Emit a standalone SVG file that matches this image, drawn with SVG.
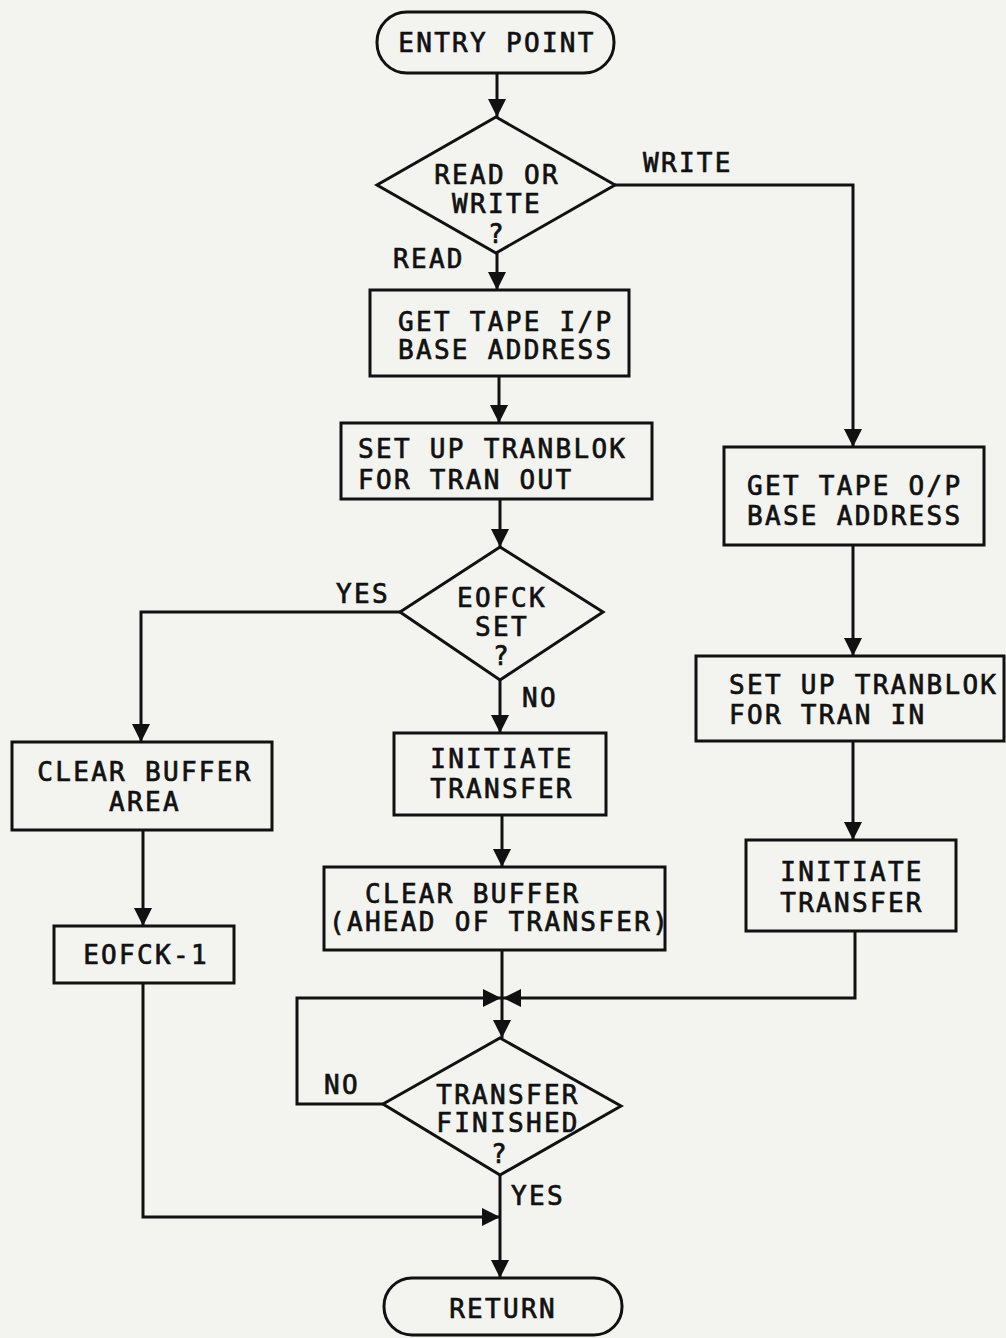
<svg xmlns="http://www.w3.org/2000/svg" width="1006" height="1338" viewBox="0 0 1006 1338">
<style>
.s{fill:none;stroke:#111;stroke-width:3;stroke-linejoin:miter}
.t{font-family:"DejaVu Sans Mono","Liberation Mono",monospace;font-size:26px;letter-spacing:2.3px;fill:#111;stroke:#111;stroke-width:0.7px}
.m{text-anchor:middle}
.c{fill:none;stroke:#111;stroke-width:3}
</style>
<defs>
<marker id="ah" markerUnits="userSpaceOnUse" markerWidth="18" markerHeight="18" refX="18" refY="9" orient="auto">
<path d="M0,0 L18,9 L0,18 z" fill="#111"/>
</marker>
</defs>
<rect width="1006" height="1338" fill="#f3f3f0"/>
<g id="connectors">
<path class="c" d="M497,73 V117" marker-end="url(#ah)"/>
<path class="c" d="M497,253 V290" marker-end="url(#ah)"/>
<path class="c" d="M615,185 H853 V447" marker-end="url(#ah)"/>
<path class="c" d="M499,376 V423" marker-end="url(#ah)"/>
<path class="c" d="M500,499 V547" marker-end="url(#ah)"/>
<path class="c" d="M400,612 H141 V742" marker-end="url(#ah)"/>
<path class="c" d="M500,680 V733" marker-end="url(#ah)"/>
<path class="c" d="M502,815 V867" marker-end="url(#ah)"/>
<path class="c" d="M143,830 V926" marker-end="url(#ah)"/>
<path class="c" d="M143,983 V1217 H500" marker-end="url(#ah)"/>
<path class="c" d="M853,545 V656" marker-end="url(#ah)"/>
<path class="c" d="M853,741 V840" marker-end="url(#ah)"/>
<path class="c" d="M855,931 V998 H503" marker-end="url(#ah)"/>
<path class="c" d="M383,1104 H297 V998 H501" marker-end="url(#ah)"/>
<path class="c" d="M502,950 V1038" marker-end="url(#ah)"/>
<path class="c" d="M500,1175 V1278" marker-end="url(#ah)"/>
<text class="t" x="643" y="172">WRITE</text>
<text class="t" x="393" y="268">READ</text>
<text class="t" x="336" y="603">YES</text>
<text class="t" x="522" y="707">NO</text>
<text class="t" x="324" y="1094">NO</text>
<text class="t" x="511" y="1205">YES</text>
</g>
<g id="entry">
<rect class="s" x="377" y="12" width="237" height="61" rx="30"/>
<text class="t m" x="497" y="52">ENTRY POINT</text>
</g>
<g id="readwrite">
<path class="s" d="M496,117 L615,185 L496,253 L377,185 Z"/>
<text class="t m" x="497" y="184">READ OR</text>
<text class="t m" x="497" y="213">WRITE</text>
<text class="t m" x="497" y="243">?</text>
</g>
<g id="getip">
<rect class="s" x="370" y="290" width="259" height="86"/>
<text class="t" x="398" y="331">GET TAPE I/P</text>
<text class="t" x="398" y="359">BASE ADDRESS</text>
</g>
<g id="tranout">
<rect class="s" x="341" y="423" width="311" height="76"/>
<text class="t" x="358" y="458">SET UP TRANBLOK</text>
<text class="t" x="358" y="489">FOR TRAN OUT</text>
</g>
<g id="eofck">
<path class="s" d="M500,547 L603,612 L500,680 L400,612 Z"/>
<text class="t m" x="502" y="607">EOFCK</text>
<text class="t m" x="502" y="636">SET</text>
<text class="t m" x="502" y="665">?</text>
</g>
<g id="clearbufarea">
<rect class="s" x="12" y="742" width="260" height="88"/>
<text class="t m" x="145" y="781">CLEAR BUFFER</text>
<text class="t m" x="145" y="811">AREA</text>
</g>
<g id="eofck1">
<rect class="s" x="54" y="926" width="180" height="57"/>
<text class="t m" x="146" y="964">EOFCK-1</text>
</g>
<g id="init1">
<rect class="s" x="394" y="733" width="212" height="82"/>
<text class="t m" x="502" y="768">INITIATE</text>
<text class="t m" x="502" y="798">TRANSFER</text>
</g>
<g id="clearahead">
<rect class="s" x="324" y="867" width="341" height="83"/>
<text class="t" x="365" y="903">CLEAR BUFFER</text>
<text class="t" x="329" y="931">(AHEAD OF TRANSFER)</text>
</g>
<g id="getop">
<rect class="s" x="724" y="447" width="260" height="98"/>
<text class="t" x="747" y="495">GET TAPE O/P</text>
<text class="t" x="747" y="525">BASE ADDRESS</text>
</g>
<g id="tranin">
<rect class="s" x="696" y="656" width="308" height="85"/>
<text class="t" x="729" y="694">SET UP TRANBLOK</text>
<text class="t" x="729" y="724">FOR TRAN IN</text>
</g>
<g id="init2">
<rect class="s" x="746" y="840" width="210" height="91"/>
<text class="t m" x="852" y="881">INITIATE</text>
<text class="t m" x="852" y="912">TRANSFER</text>
</g>
<g id="finished">
<path class="s" d="M500,1038 L621,1106 L500,1175 L383,1104 Z"/>
<text class="t m" x="508" y="1104">TRANSFER</text>
<text class="t m" x="508" y="1132">FINISHED</text>
<text class="t m" x="500" y="1163">?</text>
</g>
<g id="return">
<rect class="s" x="384" y="1278" width="238" height="57" rx="28"/>
<text class="t m" x="503" y="1318">RETURN</text>
</g>
</svg>
